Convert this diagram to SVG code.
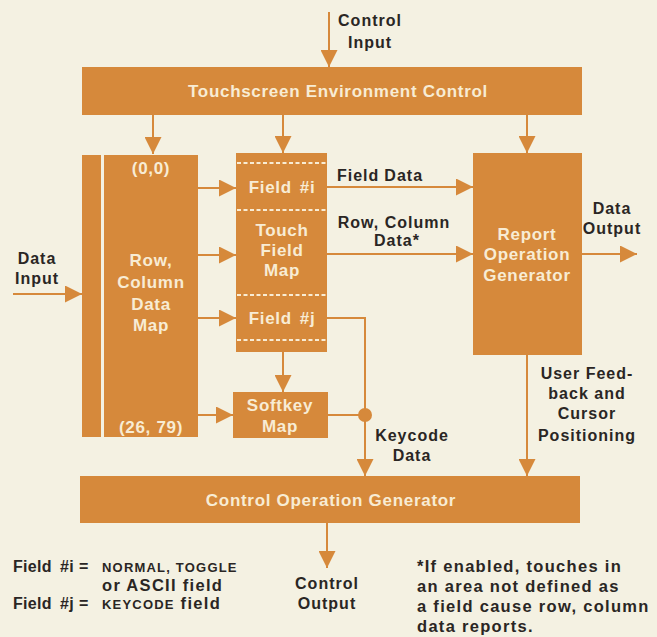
<svg xmlns="http://www.w3.org/2000/svg" width="657" height="637" viewBox="0 0 657 637">
<defs>
<marker id="ah" markerUnits="userSpaceOnUse" markerWidth="17" markerHeight="17" refX="17" refY="8.5" orient="auto">
<path d="M0,0 L17,8.5 L0,17 z" fill="#d6893b"/>
</marker>
<style>
.bx{fill:#d6893b}
.ln{stroke:#d6893b;stroke-width:2;fill:none}
.wt{font-family:"Liberation Sans",Arial,sans-serif;font-weight:bold;font-size:17px;fill:#f8ecd4;text-anchor:middle;letter-spacing:0.7px}
.dk{font-family:"Liberation Sans",Arial,sans-serif;font-weight:bold;font-size:16px;fill:#2a2624;letter-spacing:1px}
.lg{font-size:16.5px;letter-spacing:1.3px}
.fl{font-size:16px;letter-spacing:0.3px}
.mid{text-anchor:middle}
.sc{font-size:13px;letter-spacing:1.2px}
.dash{stroke:#f8ecd4;stroke-width:2;stroke-dasharray:4 2.5}
</style>
</defs>
<rect width="657" height="637" fill="#f4f1e2"/>

<g id="connectors">
<line class="ln" x1="329" y1="12" x2="329" y2="67" marker-end="url(#ah)"/>
<line class="ln" x1="153" y1="115" x2="153" y2="154" marker-end="url(#ah)"/>
<line class="ln" x1="283" y1="115" x2="283" y2="153" marker-end="url(#ah)"/>
<line class="ln" x1="527" y1="115" x2="527" y2="153" marker-end="url(#ah)"/>
<line class="ln" x1="13" y1="294" x2="82" y2="294" marker-end="url(#ah)"/>
<line class="ln" x1="198" y1="188" x2="236" y2="188" marker-end="url(#ah)"/>
<line class="ln" x1="198" y1="255" x2="236" y2="255" marker-end="url(#ah)"/>
<line class="ln" x1="198" y1="318" x2="236" y2="318" marker-end="url(#ah)"/>
<line class="ln" x1="198" y1="415" x2="233" y2="415" marker-end="url(#ah)"/>
<line class="ln" x1="283" y1="352" x2="283" y2="392" marker-end="url(#ah)"/>
<line class="ln" x1="327" y1="187" x2="473" y2="187" marker-end="url(#ah)"/>
<line class="ln" x1="327" y1="254" x2="473" y2="254" marker-end="url(#ah)"/>
<line class="ln" x1="582" y1="254" x2="637" y2="254" marker-end="url(#ah)"/>
<polyline class="ln" points="327,318 365,318 365,476" marker-end="url(#ah)"/>
<line class="ln" x1="328" y1="415" x2="365" y2="415"/>
<circle cx="365" cy="415" r="7" fill="#d6893b"/>
<line class="ln" x1="527" y1="355" x2="527" y2="476" marker-end="url(#ah)"/>
<line class="ln" x1="327" y1="523" x2="327" y2="568" marker-end="url(#ah)"/>
</g>

<g id="control-input-label">
<text class="dk mid" x="370" y="26">Control</text>
<text class="dk mid" x="370" y="48">Input</text>
</g>

<g id="touchscreen-environment-control">
<rect class="bx" x="82" y="67" width="500" height="48"/>
<text class="wt" x="338" y="97">Touchscreen Environment Control</text>
</g>

<g id="data-input-label">
<text class="dk mid" x="37" y="264">Data</text>
<text class="dk mid" x="37" y="284">Input</text>
</g>

<g id="row-column-data-map">
<rect class="bx" x="82" y="155" width="19" height="282"/>
<rect class="bx" x="104" y="155" width="94" height="282"/>
<text class="wt" x="151" y="174">(0,0)</text>
<text class="wt" x="151" y="266">Row,</text>
<text class="wt" x="151" y="288">Column</text>
<text class="wt" x="151" y="310">Data</text>
<text class="wt" x="151" y="331">Map</text>
<text class="wt" x="151" y="433">(26, 79)</text>
</g>

<g id="touch-field-map">
<rect class="bx" x="236" y="153" width="91" height="199"/>
<line class="dash" x1="237" y1="163" x2="326" y2="163"/>
<line class="dash" x1="237" y1="210" x2="326" y2="210"/>
<line class="dash" x1="237" y1="295" x2="326" y2="295"/>
<line class="dash" x1="237" y1="340" x2="326" y2="340"/>
<text class="wt" x="282" y="193">Field<tspan dx="8">#i</tspan></text>
<text class="wt" x="282" y="236">Touch</text>
<text class="wt" x="282" y="256">Field</text>
<text class="wt" x="282" y="276">Map</text>
<text class="wt" x="282" y="324">Field<tspan dx="8">#j</tspan></text>
</g>

<g id="softkey-map">
<rect class="bx" x="233" y="392" width="95" height="46"/>
<text class="wt" x="280" y="411">Softkey</text>
<text class="wt" x="280" y="432">Map</text>
</g>

<g id="report-operation-generator">
<rect class="bx" x="473" y="153" width="109" height="202"/>
<text class="wt" x="527" y="240">Report</text>
<text class="wt" x="527" y="260">Operation</text>
<text class="wt" x="527" y="281">Generator</text>
</g>

<g id="connector-labels">
<text class="dk" x="337" y="181">Field<tspan dx="5">Data</tspan></text>
<text class="dk mid" x="394" y="228">Row, Column</text>
<text class="dk mid" x="397" y="246">Data*</text>
<text class="dk mid" x="612" y="214">Data</text>
<text class="dk mid" x="612" y="234">Output</text>
<text class="dk mid" x="412" y="441">Keycode</text>
<text class="dk mid" x="412" y="461">Data</text>
<text class="dk mid" x="587" y="379">User Feed-</text>
<text class="dk mid" x="587" y="399">back and</text>
<text class="dk mid" x="587" y="419">Cursor</text>
<text class="dk mid" x="587" y="441">Positioning</text>
<text class="dk mid" x="327" y="589">Control</text>
<text class="dk mid" x="327" y="609">Output</text>
</g>

<g id="control-operation-generator">
<rect class="bx" x="80" y="476" width="500" height="47"/>
<text class="wt" x="331" y="506">Control Operation Generator</text>
</g>

<g id="legend">
<text class="dk fl" x="13" y="572">Field<tspan x="60">#i</tspan><tspan x="79">=</tspan></text>
<text class="dk sc" x="102" y="572">NORMAL, TOGGLE</text>
<text class="dk lg" x="102" y="591">or ASCII field</text>
<text class="dk fl" x="13" y="609">Field<tspan x="60">#j</tspan><tspan x="79">=</tspan></text>
<text class="dk lg" x="102" y="609"><tspan class="sc">KEYCODE</tspan> field</text>
</g>

<g id="footnote">
<text class="dk lg" x="417" y="572">*If enabled, touches in</text>
<text class="dk lg" x="417" y="592">an area not defined as</text>
<text class="dk lg" x="417" y="612">a field cause row, column</text>
<text class="dk lg" x="417" y="632">data reports.</text>
</g>
</svg>
